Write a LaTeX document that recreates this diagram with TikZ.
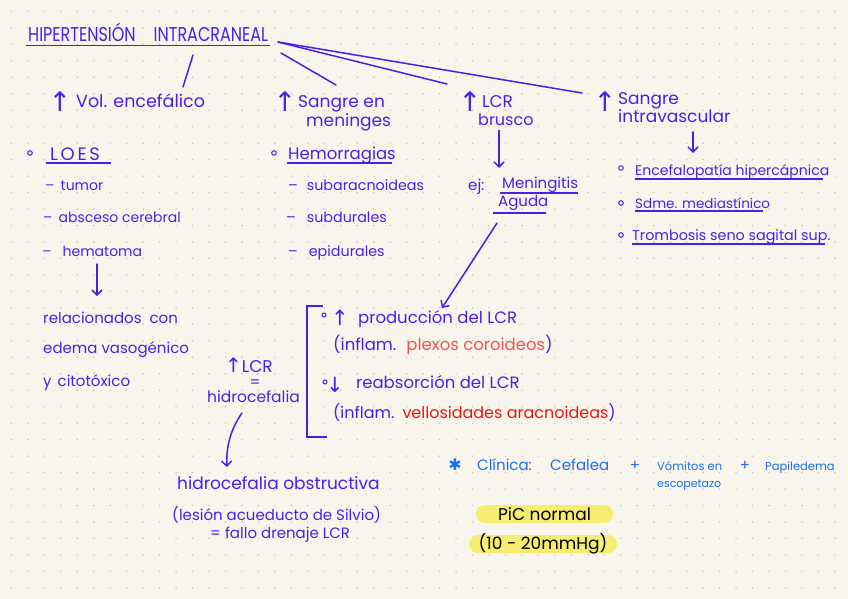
\documentclass[tikz,border=0pt]{standalone}
\usepackage{fontspec}
\setmainfont{Poppins}
\newfontfamily\sym{DejaVu Sans}
\usetikzlibrary{arrows.meta}
\definecolor{ink}{RGB}{78,30,232}
\definecolor{bg}{RGB}{248,246,236}
\definecolor{dotc}{RGB}{196,194,184}
\definecolor{clin}{RGB}{30,110,240}
\definecolor{redA}{RGB}{242,82,82}
\definecolor{redB}{RGB}{238,20,20}
\definecolor{hl}{RGB}{246,238,112}
\begin{document}
\begin{tikzpicture}[x=1pt,y=-1pt,
 t/.style={inner sep=0pt, anchor=base west, text=ink, font=\fontsize{15}{17}\selectfont},
 up/.style={inner sep=0pt, anchor=base west, text=ink, font=\sym\fontsize{27}{27}\selectfont},
 ul/.style={draw=ink, line width=1.3pt},
 ln/.style={draw=ink, line width=1.5pt, line cap=round},
 arr/.style={ln, -{Straight Barb[length=5pt,width=10pt]}},
 bul/.style={draw=ink, line width=1pt},
 hlbox/.style={fill=hl, rounded corners=9pt, inner sep=0pt, minimum height=18pt},
 blk/.style={inner sep=0pt, text=black, font=\fontsize{17}{19}\selectfont}
]
\useasboundingbox (0,0) rectangle (848,599);
\fill[bg] (0,0) rectangle (848,599);
\foreach \i in {0,...,50}{\foreach \j in {0,...,35}{\fill[dotc] ({11.4+16.47*\i},{11.4+16.47*\j}) circle (0.8);}}

% title
\node[t, font=\fontsize{16}{18}\selectfont] (title) at (28,42) {\scalebox{1}[1.25]{HIPERTENSIÓN\hspace{18pt}INTRACRANEAL}};
\draw[ul] ([xshift=-2pt,yshift=-3.5pt]title.base west) -- ([xshift=2pt,yshift=-3.5pt]title.base east);

% connectors from title
\coordinate (c1a) at (193,55); \coordinate (c1b) at (183,87);
\coordinate (c2a) at (281,53); \coordinate (c2b) at (336,85);
\coordinate (c3a) at (278,42); \coordinate (c3b) at (447,84);
\coordinate (c4b) at (582,93);
\draw[ln] (c1a) -- (c1b);
\draw[ln] (c2a) -- (c2b);
\draw[ln] (c3a) -- (c3b);
\draw[ln] (c3a) -- (c4b);

% headings
\node[up] (u1) at (48.5,112) {↑};
\node[t, font=\fontsize{17.5}{19}\selectfont] (vol) at (76,108) {Vol. encefálico};
\node[up] (u2) at (273.5,112) {↑};
\node[t, font=\fontsize{17}{19}\selectfont] (sang) at (298,108) {Sangre en};
\node[t, font=\fontsize{17}{19}\selectfont] (men) at (306,126) {meninges};
\node[up] (u3) at (458.5,112) {↑};
\node[t, font=\fontsize{17}{19}\selectfont] (lcr) at (482,108) {LCR};
\node[t, font=\fontsize{16}{19}\selectfont] (brusco) at (478,125) {brusco};
\node[up] (u4) at (593.5,112) {↑};
\node[t, font=\fontsize{17}{19}\selectfont] (sangre) at (618,105) {Sangre};
\node[t, font=\fontsize{17}{19}\selectfont] (intrav) at (618,122) {intravascular};

% left column
\draw[bul] (30,153) circle (2.3);
\node[t, font=\fontsize{18}{20}\selectfont\addfontfeatures{LetterSpace=15}] (loes) at (50,160) {LOES};
\draw[ul] (46,163) -- (111,163);
\node[t, font=\fontsize{14}{16}\selectfont] (tumor) at (45,190) {–\hspace{6pt}tumor};
\node[t, font=\fontsize{14}{16}\selectfont] (absc) at (43,222) {–\hspace{6pt}absceso cerebral};
\node[t, font=\fontsize{14}{16}\selectfont] (hema) at (42,256) {–\hspace{11pt}hematoma};
\draw[arr] (97,264) -- (97,296);
\node[t] (rel1) at (43,323) {relacionados\hspace{8pt}con};
\node[t] (rel2) at (43,353) {edema vasogénico};
\node[t] (rel3) at (43,386) {y\hspace{6pt}citotóxico};

% middle column
\draw[bul] (274,153) circle (2.3);
\node[t, font=\fontsize{16.5}{18}\selectfont] (hem) at (288,159) {Hemorragias};
\draw[ul] (287,163) -- (392,163);
\node[t, font=\fontsize{14.3}{16}\selectfont] (sa) at (288,190) {–\hspace{9pt}subaracnoideas};
\node[t, font=\fontsize{14.3}{16}\selectfont] (sd) at (286,222) {–\hspace{11pt}subdurales};
\node[t, font=\fontsize{14.3}{16}\selectfont] (ep) at (288,256) {–\hspace{11pt}epidurales};

% LCR branch
\node[t] (ej) at (468,190) {ej:};
\node[t] (mening) at (502,188) {Meningitis};
\draw[ul] (500,193) -- (578,193);
\node[t] (aguda) at (498,206) {Aguda};
\draw[ul] (493,213) -- (546,213);
\draw[arr] (brusco.south -| 499,0) ++(0,5) -- (499,168);

% right column
\draw[arr] (693,132) -- (693,153);
\draw[bul] (621,168) circle (2.3);
\node[t, font=\fontsize{14}{16}\selectfont] (ence) at (635,175) {Encefalopatía hipercápnica};
\draw[ul] (635,179) -- (823,179);
\draw[bul] (621,203) circle (2.3);
\node[t, font=\fontsize{13.5}{16}\selectfont] (sdme) at (635,208) {Sdme. mediastínico};
\draw[ul] (635,211) -- (763,211);
\draw[bul] (621,235) circle (2.3);
\node[t, font=\fontsize{14.3}{16}\selectfont] (tromb) at (632,240) {Trombosis seno sagital sup.};
\draw[ul] (632,244) -- (825,244);

% bracket block
\draw[ln, line cap=butt] (323,306) -- (307,306) -- (307,437) -- (327,437);
\draw[arr] (497,223) -- (442,308);
\draw[bul] (324,315) circle (2);
\node[up, font=\sym\fontsize{21}{21}\selectfont] (u5) at (331,325) {↑};
\node[t, font=\fontsize{16.5}{18}\selectfont] (prod) at (358,323) {producción del LCR};
\node[t, font=\fontsize{16.5}{18}\selectfont] (infl1) at (333,350) {(inflam.\hspace{10pt}{\color{redA}plexos coroideos})};
\draw[bul] (325,382) circle (2);
\node[up, font=\sym\fontsize{21}{21}\selectfont] (d1) at (326,392) {↓};
\node[t, font=\fontsize{16.5}{18}\selectfont] (reab) at (356,388) {reabsorción del LCR};
\node[t, font=\fontsize{16}{18}\selectfont] (infl2) at (333,418) {(inflam.\hspace{8pt}{\color{redB}vellosidades aracnoideas})};

% hidrocefalia
\node[t, font=\fontsize{17}{19}\selectfont] (lcr2) at (225,372) {{\sym\fontsize{20}{20}\selectfont ↑}LCR};
\node[t, anchor=center] (eq) at (255,384) {=};
\node[t, font=\fontsize{15.5}{18}\selectfont] (hidro) at (207,402) {hidrocefalia};
\node[t, font=\fontsize{17}{19}\selectfont] (obst) at (177,489) {hidrocefalia obstructiva};
\node[t, font=\fontsize{15}{19}\selectfont] (les) at (172,520) {(lesión acueducto de Silvio)};
\node[t, font=\fontsize{15}{19}\selectfont] (fallo) at (210,538) {= fallo drenaje LCR};
\draw[arr] (242,413) .. controls (230,430) and (226,448) .. (227,467);

% clinica
\node[t, text=clin, anchor=center, font=\sym\fontsize{16}{16}\selectfont] (star) at (455,465) {✱};
\node[t, text=clin] (clinica) at (477,470) {Clínica:};
\node[t, text=clin] (cef) at (550,470) {Cefalea};
\node[t, text=clin, anchor=center] (p1) at (635,466) {+};
\node[t, text=clin, font=\fontsize{11.5}{13}\selectfont] (vom) at (657,470) {Vómitos en};
\node[t, text=clin, font=\fontsize{11}{13}\selectfont] (esc) at (657,487) {escopetazo};
\node[t, text=clin, anchor=center] (p2) at (745,466) {+};
\node[t, text=clin, font=\fontsize{11.5}{13}\selectfont] (pap) at (765,470) {Papiledema};

% highlights
\node[hlbox, minimum width=137pt] (pic) at (544.5,514) {};
\node[blk] at (pic) {PiC normal};
\node[hlbox, minimum width=148pt] (rng) at (543,544) {};
\node[blk] at (rng) {(10 - 20mmHg)};
\end{tikzpicture}
\end{document}
